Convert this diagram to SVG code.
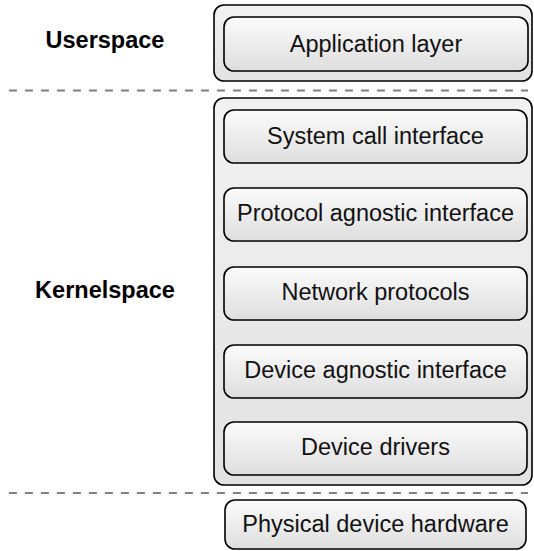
<svg xmlns="http://www.w3.org/2000/svg" width="534" height="551" viewBox="0 0 534 551">
<defs>
<linearGradient id="gIn" x1="0" y1="0" x2="0" y2="1">
<stop offset="0" stop-color="#fbfbfb"/>
<stop offset="1" stop-color="#dedede"/>
</linearGradient>
<linearGradient id="gOut" x1="0" y1="0" x2="0" y2="1">
<stop offset="0" stop-color="#f2f2f2"/>
<stop offset="1" stop-color="#e2e2e2"/>
</linearGradient>
</defs>
<style>
.outer{fill:url(#gOut);stroke:#000;stroke-width:1.6}
.inner{fill:url(#gIn);stroke:#000;stroke-width:1.6}
.lbl{font-family:"Liberation Sans",Arial,Helvetica,sans-serif;font-size:23.5px;fill:#111;text-anchor:middle}
.side{font-family:"Liberation Sans",Arial,Helvetica,sans-serif;font-size:23.5px;font-weight:bold;fill:#000;text-anchor:middle}
.dash{stroke:#808080;stroke-width:2;stroke-dasharray:8 8;fill:none}
</style>
<g id="separators">
<line class="dash" x1="9" y1="90.5" x2="528" y2="90.5"/>
<line class="dash" x1="9" y1="493" x2="528" y2="493"/>
</g>
<g id="labels">
<text class="side" x="105" y="48">Userspace</text>
<text class="side" x="105" y="298">Kernelspace</text>
</g>
<g id="userspace">
<rect class="outer" x="214" y="5" width="318" height="76" rx="10"/>
</g>
<g id="application-layer">
<rect class="inner" x="224" y="17" width="304" height="54" rx="10"/>
<text class="lbl" x="376" y="52">Application layer</text>
</g>
<g id="kernelspace">
<rect class="outer" x="214" y="98" width="318" height="387" rx="10"/>
</g>
<g id="system-call-interface">
<rect class="inner" x="224" y="110" width="303" height="53" rx="10"/>
<text class="lbl" x="375.5" y="144">System call interface</text>
</g>
<g id="protocol-agnostic-interface">
<rect class="inner" x="224" y="188" width="303" height="53" rx="10"/>
<text class="lbl" x="375.5" y="221">Protocol agnostic interface</text>
</g>
<g id="network-protocols">
<rect class="inner" x="224" y="267" width="303" height="53" rx="10"/>
<text class="lbl" x="375.5" y="300">Network protocols</text>
</g>
<g id="device-agnostic-interface">
<rect class="inner" x="224" y="345" width="303" height="53" rx="10"/>
<text class="lbl" x="375.5" y="378">Device agnostic interface</text>
</g>
<g id="device-drivers">
<rect class="inner" x="224" y="422" width="303" height="53" rx="10"/>
<text class="lbl" x="375.5" y="455">Device drivers</text>
</g>
<g id="physical-device-hardware">
<rect class="inner" x="225" y="500" width="301" height="49" rx="10"/>
<text class="lbl" x="375.5" y="532">Physical device hardware</text>
</g>
<g id="connectors"/>
</svg>
